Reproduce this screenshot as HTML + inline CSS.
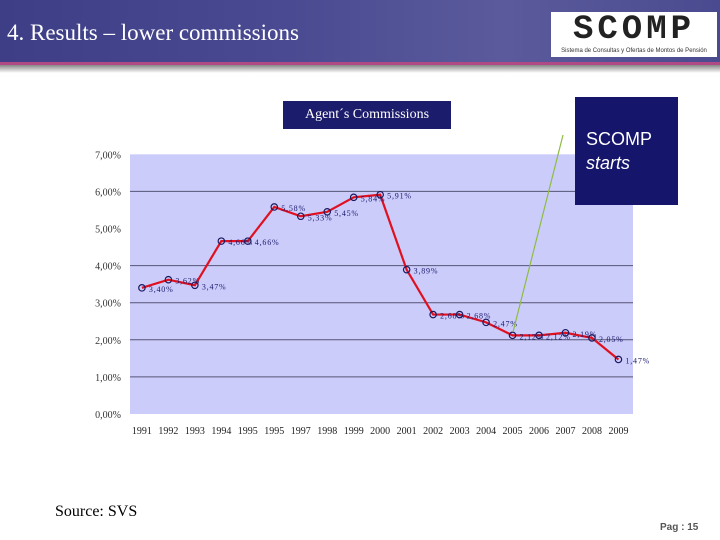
<!DOCTYPE html>
<html><head><meta charset="utf-8"><style>
body{margin:0;width:720px;height:540px;background:#fff;position:relative;overflow:hidden;font-family:"Liberation Sans",sans-serif}
.hdr{position:absolute;left:0;top:0;width:720px;height:62px;background:linear-gradient(90deg,#3e3e86,#4a4a92 40%,#5a5a9c 70%,#4a4a90)}
.pink{position:absolute;left:0;top:62px;width:720px;height:3px;background:#b04a84}
.shadow{position:absolute;left:0;top:65px;width:720px;height:8px;background:linear-gradient(#888,#fff)}
</style></head><body>
<div class="hdr"></div>
<div class="pink"></div>
<div class="shadow"></div>
<div style="position:absolute;left:7px;top:20px;color:#fff;font-family:'Liberation Serif',serif;font-size:23px">4. Results – lower commissions</div>
<div style="position:absolute;left:551px;top:12px;width:166px;height:45px;background:#fff;text-align:center">
<div style="font-family:'Liberation Mono',monospace;font-weight:bold;font-size:34px;letter-spacing:4px;line-height:36px;color:#222">SCOMP</div>
<div style="font-size:6px;color:#333">Sistema de Consultas y Ofertas de Montos de Pensión</div></div>
<svg width="720" height="540" style="position:absolute;left:0;top:0">
<g id="g"></g></svg>
<div style="position:absolute;left:283px;top:101px;width:168px;height:28px;background:#1c1c6c;color:#fff;font-family:'Liberation Serif',serif;font-size:14px;line-height:28px;text-align:center">Agent´s Commissions</div>
<div style="position:absolute;left:575px;top:97px;width:103px;height:108px;background:#15156c;color:#fff;font-size:18px;line-height:24px;padding:30px 0 0 11px;box-sizing:border-box">SCOMP<br><i>starts</i></div>
<div style="position:absolute;left:55px;top:503px;font-family:'Liberation Serif',serif;font-size:16px;color:#000">Source: SVS</div>
<div style="position:absolute;left:660px;top:522px;font-size:10px;color:#555;font-weight:bold">Pag : 15</div>
<script>
const years=["1991","1992","1993","1994","1995","1995","1997","1998","1999","2000","2001","2002","2003","2004","2005","2006","2007","2008","2009"];
const values=[3.40,3.62,3.47,4.66,4.66,5.58,5.33,5.45,5.84,5.91,3.89,2.68,2.68,2.47,2.12,2.12,2.19,2.05,1.47];
const labels=["3,40%","3,62%","3,47%","4,66%","4,66%","5,58%","5,33%","5,45%","5,84%","5,91%","3,89%","2,68%","2,68%","2,47%","2,12%","2,12%","2,19%","2,05%","1,47%"];
const yTicks=[0,1,2,3,4,5,6,7];
const tickLabels=["0,00%","1,00%","2,00%","3,00%","4,00%","5,00%","6,00%","7,00%"];
const ns="http://www.w3.org/2000/svg",g=document.getElementById('g');
const X0=130,X1=633,Y0=414,PX=37.1;
const x=i=>X0+(X1-X0)*(i+0.45)/years.length, y=v=>Y0-v*PX;
function el(t,a){const e=document.createElementNS(ns,t);for(const k in a)e.setAttribute(k,a[k]);g.appendChild(e);return e;}
let r=el('rect',{x:X0,y:y(7),width:X1-X0,height:Y0-y(7),fill:'#ccccfa'});


yTicks.forEach((t,i)=>{
 if(t>0&&t<7&&t!==5){const l=el('line',{x1:X0,x2:X1,y1:y(t),y2:y(t),stroke:'#555577','stroke-width':1});
 
 }
 const tx=el('text',{x:121,y:y(t)+4,'text-anchor':'end','font-size':10,fill:'#333','font-family':'Liberation Serif,serif'});tx.textContent=tickLabels[i];
 
 
});
years.forEach((yr,i)=>{
 const t=el('text',{x:x(i),y:434,'text-anchor':'middle','font-size':10,fill:'#222','font-family':'Liberation Serif,serif'});t.textContent=yr;
 
 
});
const p=el('polyline',{points:values.map((v,i)=>x(i)+','+y(v)).join(' '),fill:'none',stroke:'#e01020','stroke-width':2.2});


values.forEach((v,i)=>{
 const c=el('circle',{cx:x(i),cy:y(v),r:3.2,fill:'none',stroke:'#1a1a60','stroke-width':1.2});
 
 
 const t=el('text',{x:x(i)+7,y:y(v)+4,'font-size':8,fill:'#1a1a70','font-family':'Liberation Serif,serif','letter-spacing':'0.8'});t.textContent=labels[i];
 
 
});
const gl=el('line',{x1:563,y1:135,x2:513,y2:332,stroke:'#8cbc40','stroke-width':1.2});


</script>
</body></html>
